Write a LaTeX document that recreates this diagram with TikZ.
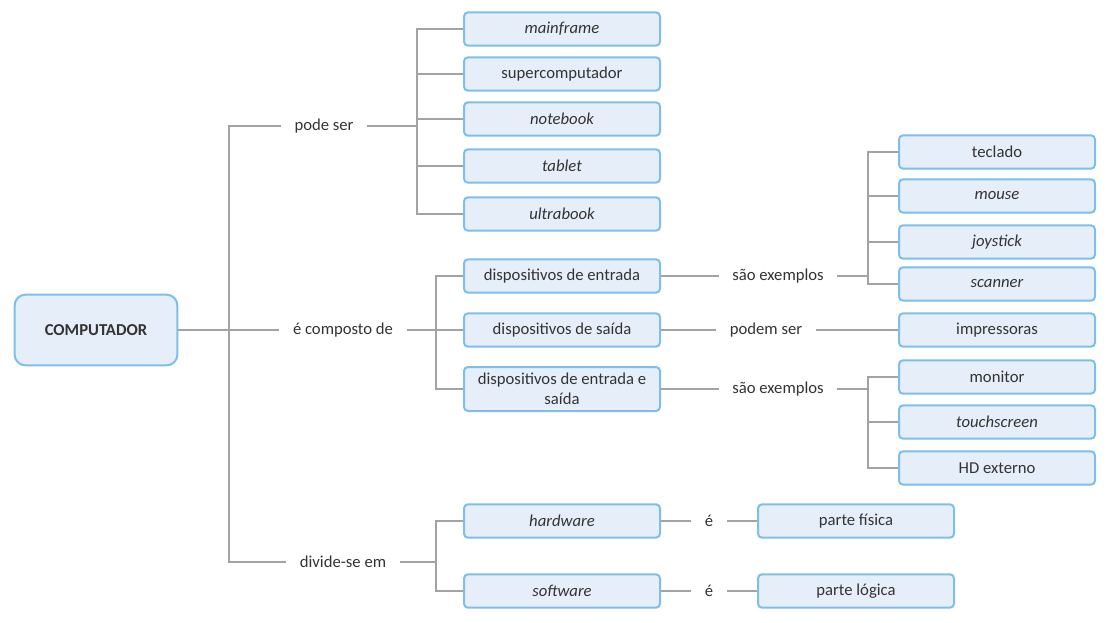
\documentclass[tikz,border=0pt]{standalone}
\usepackage{fontspec}
\setmainfont{Carlito}
\definecolor{boxfill}{HTML}{E6EEF9}
\definecolor{boxline}{HTML}{7DBFE9}
\definecolor{linkgray}{HTML}{A3A3A3}
\definecolor{txt}{HTML}{333333}
\tikzset{
  topic/.style={draw=boxline,fill=boxfill,line width=1.5pt,rounded corners=3pt,
    minimum width=147pt,minimum height=25pt,text=txt,
    font=\fontsize{12.5}{15}\selectfont},
  root/.style={topic,minimum width=122pt,minimum height=53pt,rounded corners=8pt,
    font=\fontsize{12.5}{15}\selectfont\bfseries},
  rel/.style={inner xsep=10pt,text=txt,font=\fontsize{12.5}{15}\selectfont},
  link/.style={draw=linkgray,line width=1.2pt}
}
\begin{document}
\begin{tikzpicture}[x=0.75pt,y=-0.75pt]
\useasboundingbox (0,0) rectangle (1117,622);
\node[root] (computador) at (96,330) {COMPUTADOR};
\node[rel] (podeser) at (324,126) {pode ser};
\node[rel] (composto) at (343,330) {é composto de};
\node[rel] (divide) at (343,562) {divide-se em};
% pode ser
\node[topic] (mainframe) at (562,29) {\itshape mainframe};
\node[topic] (super) at (562,74) {supercomputador};
\node[topic] (notebook) at (562,119) {\itshape notebook};
\node[topic] (tablet) at (562,166) {\itshape tablet};
\node[topic] (ultrabook) at (562,214) {\itshape ultrabook};
% e composto de
\node[topic] (entrada) at (562,276) {dispositivos de entrada};
\node[topic] (saida) at (562,330) {dispositivos de saída};
\node[topic,minimum height=33pt,align=center] (entsai) at (562,389) {dispositivos de entrada e\\saída};
\node[rel] (exA) at (778,276) {são exemplos};
\node[rel] (podem) at (766,330) {podem ser};
\node[rel] (exB) at (778,389) {são exemplos};
\node[topic] (teclado) at (997,152) {teclado};
\node[topic] (mouse) at (997,196) {\itshape mouse};
\node[topic] (joystick) at (997,242) {\itshape joystick};
\node[topic] (scanner) at (997,284) {\itshape scanner};
\node[topic] (impressoras) at (997,330) {impressoras};
\node[topic] (monitor) at (997,377) {monitor};
\node[topic] (touch) at (997,422) {\itshape touchscreen};
\node[topic] (hd) at (997,468) {HD externo};
% divide-se em
\node[topic] (hardware) at (562,521) {\itshape hardware};
\node[topic] (software) at (562,591) {\itshape software};
\node[rel] (eA) at (709,521) {é};
\node[rel] (eB) at (709,591) {é};
\node[topic] (fisica) at (856,521) {parte física};
\node[topic] (logica) at (856,591) {parte lógica};
% branch points
\coordinate (trunk) at (229,330);
\coordinate (bpode) at (417,126);
\coordinate (bcomp) at (436,330);
\coordinate (bdiv) at (436,562);
\coordinate (bexA) at (868,276);
\coordinate (bexB) at (868,389);
% connectors
\draw[link] (computador) -- (trunk);
\draw[link] (trunk) |- (podeser);
\draw[link] (trunk) -- (composto);
\draw[link] (trunk) |- (divide);
\draw[link] (podeser) -- (bpode);
\draw[link] (bpode) |- (mainframe);
\draw[link] (bpode) |- (super);
\draw[link] (bpode) |- (notebook);
\draw[link] (bpode) |- (tablet);
\draw[link] (bpode) |- (ultrabook);
\draw[link] (composto) -- (bcomp);
\draw[link] (bcomp) |- (entrada);
\draw[link] (bcomp) -- (saida);
\draw[link] (bcomp) |- (entsai);
\draw[link] (entrada) -- (exA);
\draw[link] (exA) -- (bexA);
\draw[link] (bexA) |- (teclado);
\draw[link] (bexA) |- (mouse);
\draw[link] (bexA) |- (joystick);
\draw[link] (bexA) |- (scanner);
\draw[link] (saida) -- (podem);
\draw[link] (podem) -- (impressoras);
\draw[link] (entsai) -- (exB);
\draw[link] (exB) -- (bexB);
\draw[link] (bexB) |- (monitor);
\draw[link] (bexB) |- (touch);
\draw[link] (bexB) |- (hd);
\draw[link] (divide) -- (bdiv);
\draw[link] (bdiv) |- (hardware);
\draw[link] (bdiv) |- (software);
\draw[link] (hardware) -- (eA);
\draw[link] (eA) -- (fisica);
\draw[link] (software) -- (eB);
\draw[link] (eB) -- (logica);
\end{tikzpicture}
\end{document}
